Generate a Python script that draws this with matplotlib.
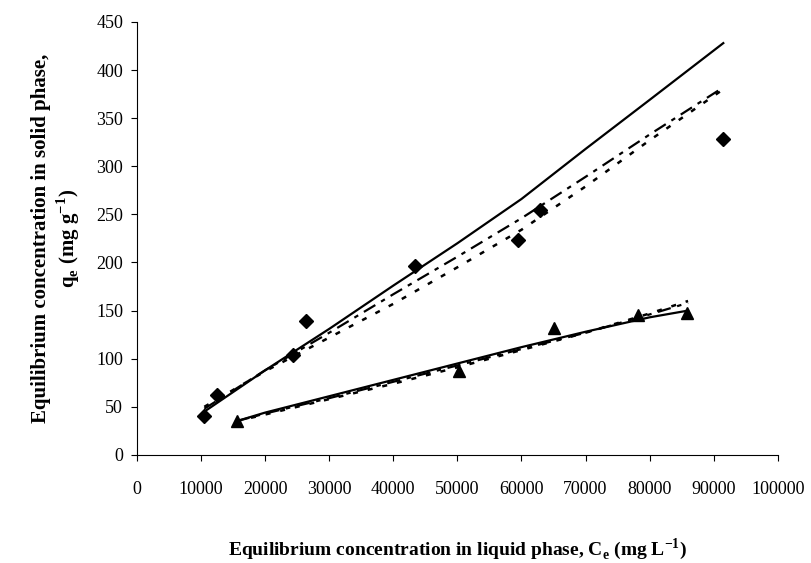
import numpy as np
import matplotlib.pyplot as plt

plt.rcParams['font.family'] = ['Liberation Serif', 'DejaVu Serif']
plt.rcParams['mathtext.fontset'] = 'custom'
plt.rcParams['mathtext.rm'] = 'Liberation Serif'
plt.rcParams['mathtext.bf'] = 'Liberation Serif:bold'

ce_diamond = [10500, 12400, 24400, 26300, 43400, 59500, 62900, 91500]
qe_diamond = [40, 62, 104, 139, 196, 223, 255, 328]
ce_triangle = [15600, 50300, 65000, 78200, 85900]
qe_triangle = [35, 87, 132, 145, 147]

# Model curves, upper set
ce_fit_up = [10500, 20000, 30000, 40000, 50000, 60000, 70000, 80000, 91500]
q_solid_up = [45, 88, 131, 176, 220, 266, 318, 369, 428]
q_dash_up = [48, 88, 127, 167, 206, 246, 289, 333, 382]
q_dot_up = [50, 87, 122, 157, 195, 234, 279, 327, 380]

# Model curves, lower set
ce_fit_low = [15500, 20000, 30000, 40000, 50000, 60000, 70000, 80000, 86000]
q_solid_low = [35, 44, 61, 78, 95, 112, 128, 143, 150]
q_dash_low = [35, 43, 59, 76, 93, 110, 127, 146, 158]
q_dot_low = [35, 42, 58, 74, 91, 109, 127, 147, 160]

fig = plt.figure(figsize=(8.11, 5.63), dpi=100)
ax = fig.add_axes([0.169, 0.192, 0.79, 0.769])

ax.plot(ce_fit_up, q_solid_up, 'k-', lw=1.6)
ax.plot(ce_fit_up, q_dash_up, 'k', ls=(0, (6, 3, 2, 3)), lw=1.6)
ax.plot(ce_fit_up, q_dot_up, 'k', ls=(0, (2, 4)), lw=1.8)
ax.plot(ce_fit_low, q_solid_low, 'k-', lw=1.6)
ax.plot(ce_fit_low, q_dash_low, 'k', ls=(0, (6, 3, 2, 3)), lw=1.6)
ax.plot(ce_fit_low, q_dot_low, 'k', ls=(0, (2, 4)), lw=1.8)

ax.plot(ce_diamond, qe_diamond, 'kD', ms=7, ls='none')
ax.plot(ce_triangle, qe_triangle, 'k^', ms=9, ls='none')

ax.set_xlim(0, 100000)
ax.set_ylim(0, 450)
ax.set_xticks(np.arange(0, 100001, 10000))
ax.set_yticks(np.arange(0, 451, 50))
ax.spines['top'].set_visible(False)
ax.spines['right'].set_visible(False)
ax.tick_params(axis='x', direction='out', length=4, pad=15, labelsize=13)
ax.tick_params(axis='y', direction='out', length=4, pad=6, labelsize=13)

ax.set_xlabel('Equilibrium concentration in liquid phase, C$_\\mathbf{e}$ (mg L$^\\mathbf{-1}$)',
              fontsize=14, fontweight='bold', labelpad=27)
ax.set_ylabel('Equilibrium concentration in solid phase,\nq$_\\mathbf{e}$ (mg g$^\\mathbf{-1}$)',
              fontsize=15, fontweight='bold', labelpad=10, linespacing=1.2)

fig.savefig('out.png', dpi=100)
